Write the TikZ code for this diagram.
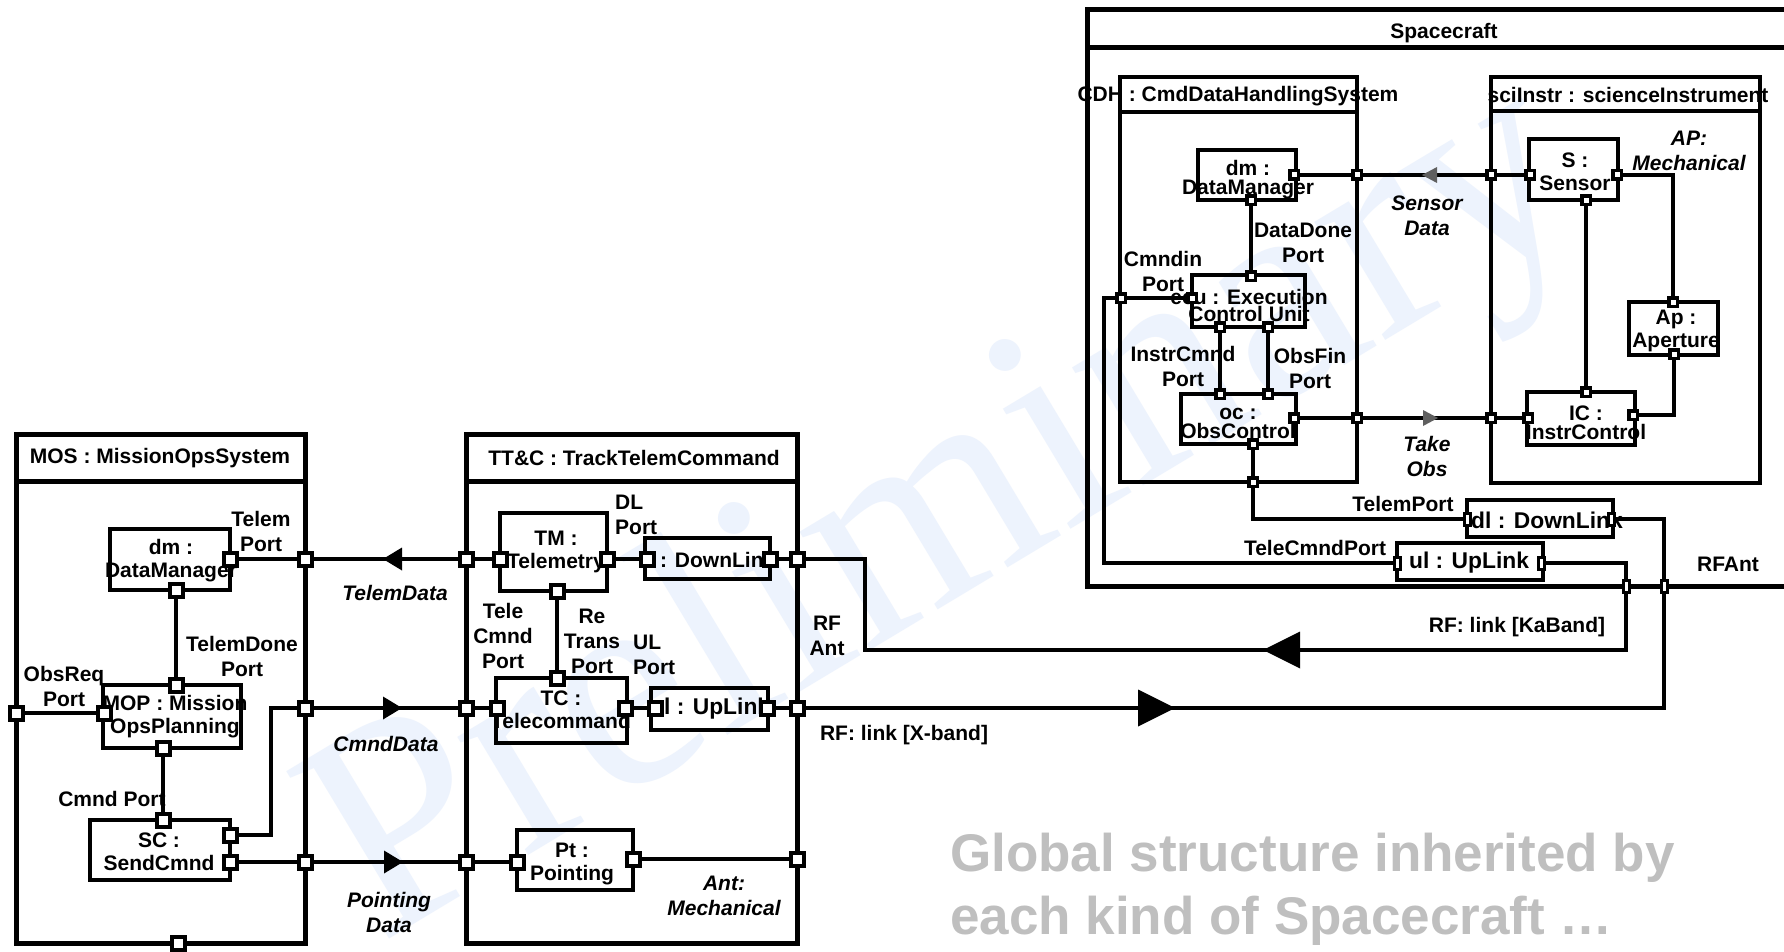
\documentclass[tikz,border=0pt]{standalone}
\usepackage{fontspec}
\setmainfont{Liberation Sans}
\newfontfamily\wmfont{Liberation Serif}
\usetikzlibrary{fit}
\definecolor{wm}{RGB}{237,243,253}
\definecolor{capgray}{RGB}{191,191,191}
\definecolor{sarrow}{RGB}{95,95,95}
\newcommand{\triL}[4][black]{\fill[#1] (#2) -- ++(#3,-#4) -- ++(0,2*#4) -- cycle;}
\newcommand{\triR}[4][black]{\fill[#1] (#2) -- ++(-#3,-#4) -- ++(0,2*#4) -- cycle;}
\begin{document}
\begin{tikzpicture}[x=1pt,y=-1pt,
  cont/.style={draw, line width=5pt, inner sep=0pt},
  comp/.style={draw, line width=4.5pt, inner sep=0pt},
  scomp/.style={draw, line width=4pt, inner sep=0pt},
  conn/.style={line width=4.3pt},
  sconn/.style={line width=3.7pt},
  port/.style={draw, fill=white, line width=4pt, minimum size=13pt, inner sep=0pt},
  sport/.style={draw, fill=white, line width=3.5pt, minimum size=8.5pt, inner sep=0pt},
  tport/.style={draw, fill=white, line width=3pt, minimum width=6pt, minimum height=12pt, inner sep=0pt},
  lbl/.style={font=\fontsize{21}{25}\selectfont\bfseries, align=center, inner sep=0pt},
  ilbl/.style={font=\fontsize{21}{25}\selectfont\bfseries\itshape, align=center, inner sep=0pt},
  ctext/.style={font=\fontsize{21}{23}\selectfont\bfseries, align=center, inner sep=0pt},
  wtext/.style={font=\fontsize{22.8}{23}\selectfont\bfseries, align=center, inner sep=0pt},
  stext/.style={font=\fontsize{21}{19}\selectfont\bfseries, align=center, inner sep=0pt},
  captext/.style={font=\fontsize{53}{63}\selectfont\bfseries, text=capgray, anchor=base west, inner sep=0pt}
]
\useasboundingbox (0,0) rectangle (1784,952);
\clip (0,0) rectangle (1784,952);
\fill[white] (0,0) rectangle (1784,952);

% watermark
\node[rotate=31, anchor=base west, inner sep=0pt, text=wm, font=\fontsize{300}{300}\selectfont\wmfont] (wmark) at (380,945) {Preliminary};

% ---------- containers ----------
\node[cont, fit={(16,434) (305,943)}] (mos) {};
\draw[cont] (16,481) -- (305,481);
\node[cont, fit={(466,434) (797,943)}] (ttc) {};
\draw[cont] (466,481) -- (797,481);
\node[cont, fit={(1087,10) (1800,586)}] (scraft) {};
\draw[cont] (1087,48) -- (1800,48);
\node[scomp, fit={(1120,77) (1357,482)}] (cdh) {};
\draw[scomp] (1120,112) -- (1357,112);
\node[scomp, fit={(1491,77) (1760,483)}] (sci) {};
\draw[scomp] (1491,111) -- (1760,111);

% ---------- component boxes ----------
\node[comp, fit={(110,529) (230,590)}] (mosdm) {};
\node[comp, fit={(103,685) (241,748)}] (mop) {};
\node[comp, fit={(90,820) (230,880)}] (sc) {};
\node[comp, fit={(500,513) (607,591)}] (tm) {};
\node[comp, fit={(645,538) (770,579)}] (dlT) {};
\node[comp, fit={(496,678) (627,743)}] (tc) {};
\node[comp, fit={(651,688) (768,730)}] (ulT) {};
\node[comp, fit={(517,830) (633,890)}] (pt) {};
\node[scomp, fit={(1198,150) (1296,200)}] (cdm) {};
\node[scomp, fit={(1192,275) (1305,327)}] (ecu) {};
\node[scomp, fit={(1181,394) (1296,444)}] (oc) {};
\node[scomp, fit={(1529,139) (1618,200)}] (sens) {};
\node[scomp, fit={(1629,302) (1718,355)}] (ap) {};
\node[scomp, fit={(1527,392) (1635,445)}] (ic) {};
\node[scomp, fit={(1467,500) (1613,537)}] (dlS) {};
\node[scomp, fit={(1397,543) (1543,580)}] (ulS) {};

% ---------- texts ----------
\node[lbl] (tMos) at (160,458) {MOS : MissionOpsSystem};
\node[ctext] (tMosDm) at (171,561) {dm :\\DataManager};
\node[ctext] (tMop) at (175,717) {MOP : Mission\\OpsPlanning};
\node[ctext] (tSc) at (159,852) {SC :\\SendCmnd};
\node[lbl] (lTelem) at (261,531) {Telem\\Port};
\node[lbl] (lTelemDone) at (242,656) {TelemDone\\Port};
\node[lbl] (lObsReq) at (64,686) {ObsReq\\Port};
\node[lbl] (lCmnd) at (112,799) {Cmnd Port};

\node[lbl] (tTt) at (634,458) {TT\&C : TrackTelemCommand};
\node[ctext] (tTm) at (556,552) {TM :\\Telemetry};
\node[ctext, anchor=west] (tDlT) at (660,560) {: DownLink};
\node[ctext] (tTc) at (561,710) {TC :\\Telecommand};
\node[wtext, anchor=west] (tUlT) at (650,709) {ul : UpLink};
\node[ctext] (tPt) at (572,864) {Pt :\\Pointing};
\node[lbl, anchor=west, align=left] (lDL) at (615,515) {DL\\Port};
\node[lbl] (lTeleCmnd) at (503,636) {Tele\\Cmnd\\Port};
\node[lbl] (lReTrans) at (592,641) {Re\\Trans\\Port};
\node[lbl, anchor=west, align=left] (lUL) at (633,655) {UL\\Port};
\node[ilbl] (lAnt) at (724,896) {Ant:\\Mechanical};

\node[ilbl] (lTelemData) at (395,593) {TelemData};
\node[ilbl] (lCmndData) at (386,744) {CmndData};
\node[ilbl] (lPointing) at (389,912) {Pointing\\Data};

\node[lbl] (lRFAnt1) at (827,636) {RF\\Ant};
\node[lbl] (lXband) at (904,735) {RF: link [X-band]};
\node[lbl] (lKa) at (1517,627) {RF: link [KaBand]};
\node[lbl] (lRFAnt2) at (1728,564) {RFAnt};

\node[lbl] (tScraft) at (1444,33) {Spacecraft};
\node[lbl] (tCdh) at (1238,96) {CDH : CmdDataHandlingSystem};
\node[lbl] (tSci) at (1628,95) {sciInstr : scienceInstrument};
\node[stext] (tCdm) at (1248,180) {dm :\\DataManager};
\node[font=\fontsize{21}{17}\selectfont\bfseries, align=center, inner sep=0pt] (tEcu) at (1249,305) {ecu : Execution\\Control Unit};
\node[stext] (tOc) at (1238,423) {oc :\\ObsControl};
\node[ctext] (tSens) at (1575,172) {S :\\Sensor};
\node[ctext] (tAp) at (1676,331) {Ap :\\Aperture};
\node[stext] (tIc) at (1586,423) {IC :\\InstrControl};
\node[wtext, anchor=west] (tDlS) at (1471,520) {dl : DownLink};
\node[wtext] (tUlS) at (1469,563) {ul : UpLink};
\node[lbl] (lDataDone) at (1303,243) {DataDone\\Port};
\node[lbl] (lCmndin) at (1163,271) {Cmndin\\Port};
\node[lbl] (lInstrCmnd) at (1183,366) {InstrCmnd\\Port};
\node[lbl] (lObsFin) at (1310,368) {ObsFin\\Port};
\node[lbl] (lTelemPort) at (1403,504) {TelemPort};
\node[lbl] (lTeleCmndPort) at (1315,548) {TeleCmndPort};
\node[ilbl] (lSensor) at (1427,216) {Sensor\\Data};
\node[ilbl] (lTake) at (1427,456) {Take\\Obs};
\node[ilbl] (lAP) at (1689,151) {AP:\\Mechanical};

\node[captext] (cap1) at (950,871) {Global structure inherited by};
\node[captext] (cap2) at (950,934) {each kind of Spacecraft …};

% ---------- port coordinates ----------
\coordinate (pDmR) at (230,559);
\coordinate (pMosR1) at (305,559);
\coordinate (pDmB) at (176,590);
\coordinate (pMopT) at (176,685);
\coordinate (pMopL) at (104,713);
\coordinate (pMosL) at (16,713);
\coordinate (pMopB) at (163,748);
\coordinate (pScT) at (163,820);
\coordinate (pScR1) at (230,835);
\coordinate (pMosR2) at (305,708);
\coordinate (pScR2) at (230,862);
\coordinate (pMosR3) at (305,862);
\coordinate (pMosB) at (178,943);
\coordinate (jog) at (271,770);

\coordinate (pTtL1) at (466,559);
\coordinate (pTmL) at (500,559);
\coordinate (pTmR) at (607,559);
\coordinate (pDlTL) at (647,559);
\coordinate (pDlTR) at (770,559);
\coordinate (pTtR1) at (797,559);
\coordinate (pTmB) at (557,591);
\coordinate (pTcT) at (557,678);
\coordinate (pTtL2) at (466,708);
\coordinate (pTcL) at (497,708);
\coordinate (pTcR) at (625,708);
\coordinate (pUlTL) at (655,708);
\coordinate (pUlTR) at (767,708);
\coordinate (pTtR2) at (797,708);
\coordinate (pTtL3) at (466,862);
\coordinate (pPtL) at (517,862);
\coordinate (pPtR) at (633,859);
\coordinate (pTtR3) at (797,859);

\coordinate (kaX) at (865,650);
\coordinate (kaY) at (1626,650);
\coordinate (xbY) at (1664,708);
\coordinate (pScRF1) at (1626,586);
\coordinate (pScRF2) at (1664,586);

\coordinate (pCdmR) at (1294,175);
\coordinate (pCdhR1) at (1357,175);
\coordinate (pSiL1) at (1491,175);
\coordinate (pSL) at (1530,175);
\coordinate (pSR) at (1617,175);
\coordinate (pCdmB) at (1251,200);
\coordinate (pEcuT) at (1251,276);
\coordinate (pEcuL) at (1192,298);
\coordinate (pCdhL) at (1121,298);
\coordinate (cmdX) at (1104,298);
\coordinate (pEcuB1) at (1220,327);
\coordinate (pOcT1) at (1220,394);
\coordinate (pEcuB2) at (1268,327);
\coordinate (pOcT2) at (1268,394);
\coordinate (pOcR) at (1294,418);
\coordinate (pCdhR2) at (1357,418);
\coordinate (pSiL2) at (1491,418);
\coordinate (pIcL) at (1528,418);
\coordinate (pOcB) at (1253,444);
\coordinate (pCdhB) at (1253,482);
\coordinate (pDlSL) at (1467,519);
\coordinate (pDlSR) at (1611,519);
\coordinate (pUlSL) at (1397,563);
\coordinate (pUlSR) at (1541,563);
\coordinate (pSB) at (1586,200);
\coordinate (pIcT) at (1586,392);
\coordinate (pApT) at (1673,302);
\coordinate (pApB) at (1674,354);
\coordinate (pIcR) at (1633,415);

% ---------- connectors ----------
\draw[conn] (pDmR) -- (pMosR1) -- (pTtL1) -- (pTmL);
\draw[conn] (pDmB) -- (pMopT);
\draw[conn] (pMopL) -- (pMosL);
\draw[conn] (pMopB) -- (pScT);
\draw[conn] (pScR1) -| (jog) |- (pMosR2);
\draw[conn] (pMosR2) -- (pTtL2) -- (pTcL);
\draw[conn] (pScR2) -- (pMosR3) -- (pTtL3) -- (pPtL);
\draw[conn] (pTmR) -- (pDlTL);
\draw[conn] (pDlTR) -- (pTtR1);
\draw[conn] (pTmB) -- (pTcT);
\draw[conn] (pTcR) -- (pUlTL);
\draw[conn] (pUlTR) -- (pTtR2);
\draw[conn] (pPtR) -- (pTtR3);
\draw[conn] (pTtR1) -| (kaX) -- (kaY) -- (pScRF1);
\draw[conn] (pTtR2) -- (xbY) -- (pScRF2);

\draw[sconn] (pCdmR) -- (pCdhR1) -- (pSiL1) -- (pSL);
\draw[sconn] (pCdmB) -- (pEcuT);
\draw[sconn] (pEcuL) -- (pCdhL) -- (cmdX) |- (pUlSL);
\draw[sconn] (pEcuB1) -- (pOcT1);
\draw[sconn] (pEcuB2) -- (pOcT2);
\draw[sconn] (pOcR) -- (pCdhR2) -- (pSiL2) -- (pIcL);
\draw[sconn] (pOcB) -- (pCdhB) |- (pDlSL);
\draw[sconn] (pDlSR) -| (pScRF2);
\draw[sconn] (pUlSR) -| (pScRF1);
\draw[sconn] (pSB) -- (pIcT);
\draw[sconn] (pSR) -| (pApT);
\draw[sconn] (pApB) |- (pIcR);

% ---------- flow arrow heads ----------
\triL{383,559}{19}{11.5}
\triR{402,708}{19}{11.5}
\triR{403,862}{19}{11.5}
\triL{1263,650}{37}{18.5}
\triR{1175,708}{37}{18.5}
\triL[sarrow]{1422,175}{15}{8}
\triR[sarrow]{1438,418}{15}{8}

% ---------- ports ----------
\foreach \p in {pDmR,pMosR1,pDmB,pMopT,pMopL,pMosL,pMopB,pScT,pScR1,pMosR2,pScR2,pMosR3,pMosB,
  pTtL1,pTmL,pTmR,pDlTL,pDlTR,pTtR1,pTmB,pTcT,pTtL2,pTcL,pTcR,pUlTL,pUlTR,pTtR2,pTtL3,pPtL,pPtR,pTtR3}
  \node[port] (q\p) at (\p) {};
\foreach \p in {pCdmR,pCdhR1,pSiL1,pSL,pSR,pCdmB,pEcuT,pEcuL,pCdhL,pEcuB1,pOcT1,pEcuB2,pOcT2,
  pOcR,pCdhR2,pSiL2,pIcL,pOcB,pCdhB,pSB,pIcT,pApT,pApB,pIcR}
  \node[sport] (q\p) at (\p) {};
\foreach \p in {pDlSL,pDlSR,pUlSL,pUlSR,pScRF1,pScRF2}
  \node[tport] (q\p) at (\p) {};
\end{tikzpicture}
\end{document}
